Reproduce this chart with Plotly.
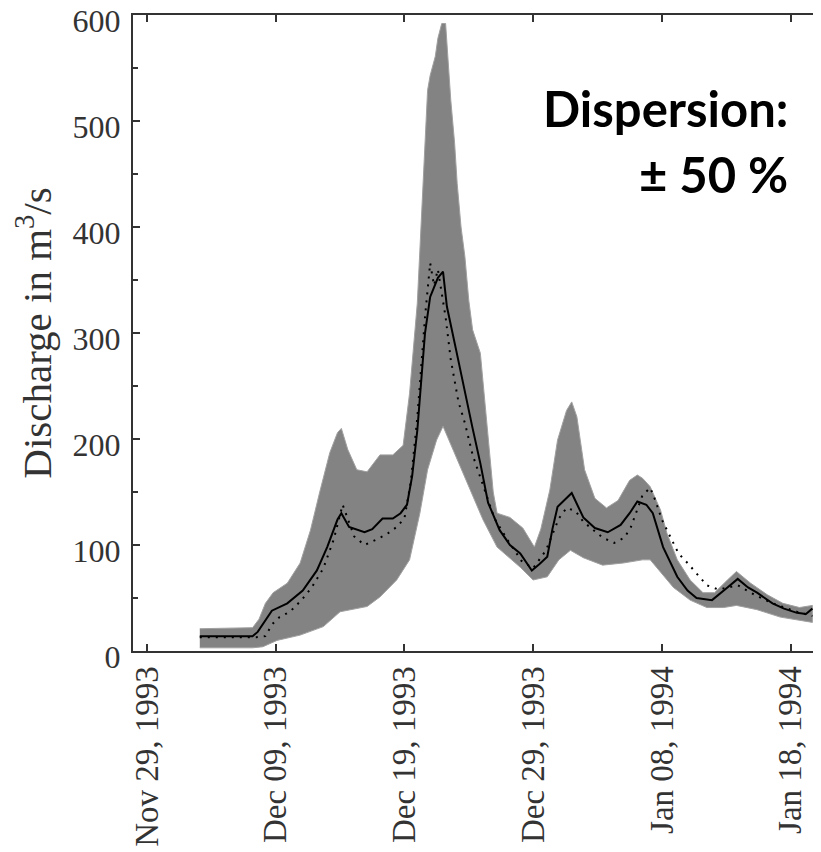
import pandas as pd
import plotly.graph_objects as go

# Day offsets are counted from Nov 29, 1993
START = pd.Timestamp("1993-11-29")

upper_days = [4.1, 8.2, 8.7, 9.2, 9.8, 10.9, 11.9, 12.7, 13.4, 14.2, 14.8, 15.1, 15.6,
              16.3, 17.1, 18.1, 19.1, 19.9, 20.4, 21.0, 21.2, 21.4, 21.6, 21.8, 22.0,
              22.4, 22.6, 22.9, 23.2, 23.4, 23.6, 23.9, 24.1, 24.4, 24.7, 25.0, 25.3,
              25.9, 26.1, 26.5, 26.9, 27.2, 28.2, 29.2, 30.1, 30.6, 31.3, 31.9, 32.6,
              33.0, 33.4, 34.0, 34.8, 35.7, 36.6, 37.5, 38.1, 38.5, 39.1, 39.9, 40.4,
              41.2, 42.2, 43.2, 44.1, 45.1, 45.8, 46.9, 48.2, 49.4, 50.7, 51.7]
upper_q = [21, 22, 30, 45, 55, 64, 83, 114, 149, 187, 206, 210, 190,
           171, 169, 185, 185, 194, 243, 328, 378, 428, 479, 529, 543,
           561, 578, 592, 592, 558, 520, 479, 441, 400, 372, 331, 303,
           281, 256, 200, 150, 130, 126, 116, 98, 115, 152, 199, 227,
           235, 221, 171, 144, 135, 142, 161, 166, 163, 155, 133, 111,
           86, 67, 55, 55, 67, 75, 64, 53, 45, 41, 43]

lower_days = [4.1, 8.2, 9.0, 10.1, 11.9, 13.7, 15.0, 17.1, 18.1, 19.4, 20.4, 21.2, 21.8,
              22.5, 23.0, 24.1, 25.1, 26.1, 27.2, 29.0, 30.0, 31.1, 32.0, 32.9, 33.9,
              35.4, 37.0, 38.5, 39.1, 39.9, 40.9, 42.2, 43.5, 44.8, 45.8, 47.4, 49.2, 51.7]
lower_q = [3, 3, 4, 10, 15, 23, 37, 42, 51, 67, 86, 130, 171,
           199, 212, 180, 152, 124, 98, 79, 67, 70, 86, 95, 88,
           81, 83, 86, 86, 74, 60, 48, 41, 41, 43, 39, 32, 27]

sim_days = [4.1, 8.2, 8.6, 9.7, 10.9, 12.1, 13.2, 14.0, 14.8, 15.1, 15.7, 16.9, 17.5,
            18.3, 19.1, 19.7, 20.2, 20.6, 21.0, 21.6, 22.0, 22.6, 23.0, 23.3, 24.0,
            24.6, 25.3, 25.9, 26.5, 27.4, 28.2, 29.0, 29.9, 30.5, 31.1, 31.5, 31.9,
            33.0, 33.9, 34.8, 35.8, 36.8, 37.5, 38.1, 38.8, 39.3, 40.1, 41.2, 42.0,
            42.7, 43.9, 45.1, 45.9, 46.7, 47.4, 48.6, 49.5, 50.5, 51.2, 51.7]
sim_q = [14, 14, 18, 38, 45, 57, 76, 98, 124, 130, 117, 112, 115,
         125, 125, 130, 138, 165, 208, 300, 334, 352, 358, 325, 285,
         249, 210, 177, 140, 114, 100, 92, 76, 82, 89, 115, 136,
         149, 126, 116, 112, 119, 130, 141, 138, 130, 98, 70, 57,
         50, 48, 60, 68, 60, 55, 45, 40, 36, 35, 40]

obs_days = [4.1, 8.5, 9.2, 9.7, 10.3, 11.1, 12.0, 12.8, 13.2, 13.7, 14.5, 15.2, 16.1,
            16.9, 17.8, 18.6, 19.4, 20.0, 20.5, 21.0, 21.6, 22.0, 22.3, 22.6, 23.2,
            23.6, 24.2, 24.7, 25.3, 26.0, 27.0, 28.0, 29.1, 30.0, 31.0, 32.0, 32.6,
            33.3, 33.9, 34.7, 35.4, 36.3, 37.1, 37.6, 38.0, 38.5, 39.1, 39.5, 40.0,
            40.5, 40.9, 41.3, 42.0, 42.7, 43.5, 44.4, 45.1, 45.9, 46.9, 48.4, 49.3,
            50.5, 51.7]
obs_q = [13, 13, 14, 25, 32, 37, 48, 60, 68, 78, 105, 138, 108,
         100, 105, 110, 117, 125, 160, 220, 315, 366, 345, 360, 315,
         275, 235, 215, 185, 160, 125, 105, 85, 78, 95, 125, 135,
         132, 122, 114, 107, 102, 107, 117, 130, 147, 154, 142, 124,
         112, 102, 92, 83, 73, 62, 58, 60, 62, 55, 46, 42,
         37, 33]

tick_days = [0, 10, 20, 30, 40, 50]
tick_text = ["Nov 29, 1993", "Dec 09, 1993", "Dec 19, 1993",
             "Dec 29, 1993", "Jan 08, 1994", "Jan 18, 1994"]


def to_dates(days):
    return [START + pd.Timedelta(days=d) for d in days]


SERIF = "Liberation Serif, Times New Roman, serif"
SANS_BOLD = "Lato, Open Sans, sans-serif"
TEXT_COLOR = "#333333"
AXIS_COLOR = "#333333"

fig = go.Figure()

# Dispersion band (upper edge then lower edge reversed)
fig.add_trace(go.Scatter(
    x=to_dates(upper_days) + to_dates(lower_days)[::-1],
    y=upper_q + lower_q[::-1],
    fill="toself",
    fillcolor="#838383",
    line={"color": "#a0a0a0", "width": 1},
    mode="lines",
    hoverinfo="skip",
    showlegend=False,
))

fig.add_trace(go.Scatter(
    x=to_dates(obs_days), y=obs_q, mode="lines",
    line={"color": "black", "width": 2, "dash": "2px,6px"},
    showlegend=False,
))

fig.add_trace(go.Scatter(
    x=to_dates(sim_days), y=sim_q, mode="lines",
    line={"color": "black", "width": 2},
    showlegend=False,
))

# page body adds 8px on top/left, so the figure is 8px smaller than the window
fig.update_layout(
    width=813,
    height=844,
    paper_bgcolor="white",
    plot_bgcolor="white",
    margin={"l": 125, "r": 0, "t": 7, "b": 201},
    font={"family": SERIF, "color": TEXT_COLOR, "size": 32},
    xaxis={
        "range": [START - pd.Timedelta(days=1.09), START + pd.Timedelta(days=52.37)],
        "tickvals": to_dates(tick_days),
        "ticktext": tick_text,
        "tickangle": -90,
        "ticks": "inside",
        "ticklen": 7,
        "tickwidth": 2,
        "tickcolor": AXIS_COLOR,
        "showline": True,
        "linecolor": AXIS_COLOR,
        "linewidth": 2,
        "mirror": "ticks",
        "showgrid": False,
        "zeroline": False,
        "ticklabelstandoff": 0,
        "tickfont": {"size": 33},
    },
    yaxis={
        "range": [0, 600],
        "tickvals": [0, 100, 200, 300, 400, 500, 600],
        "ticks": "inside",
        "ticklen": 7,
        "tickwidth": 2,
        "tickcolor": AXIS_COLOR,
        "minor": {"dtick": 50, "ticks": "inside", "ticklen": 5, "tickcolor": AXIS_COLOR},
        "showline": True,
        "linecolor": AXIS_COLOR,
        "linewidth": 2,
        "showgrid": False,
        "zeroline": False,
        "ticklabelstandoff": 4,
        "ticklabelshift": 6,
        "ticklabeloverflow": "allow",
        "tickfont": {"size": 32},
        "title": {"text": "Discharge in m<sup>3</sup>/s", "font": {"size": 41}, "standoff": 8},
        "automargin": False,
    },
)

fig.add_annotation(
    text="<b>Dispersion:</b>", xref="paper", yref="paper", x=0.955, y=0.854,
    xanchor="right", yanchor="middle", showarrow=False,
    font={"family": SANS_BOLD, "size": 49, "color": "black"},
)
fig.add_annotation(
    text="<b>± 50 %</b>", xref="paper", yref="paper", x=0.955, y=0.75,
    xanchor="right", yanchor="middle", showarrow=False,
    font={"family": SANS_BOLD, "size": 49, "color": "black"},
)

fig.write_html("out.html")
